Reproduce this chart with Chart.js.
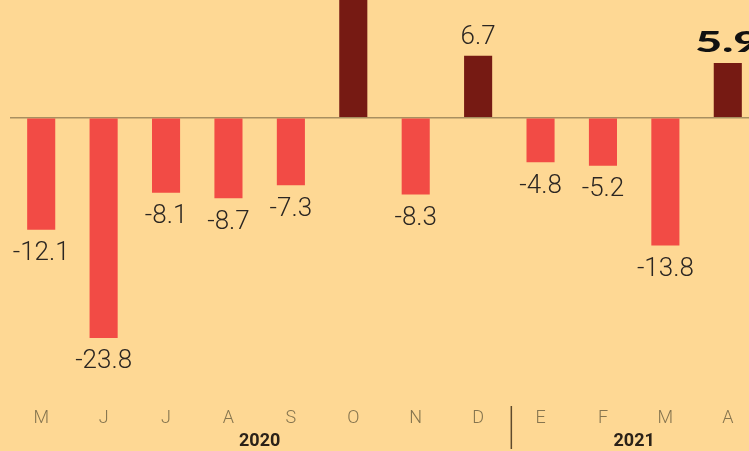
<!DOCTYPE html>
<html>
<head>
    <title>Variación mensual</title>
    <style>
        html, body {
            margin: 0;
            padding: 0;
            background: #fed894;
            overflow: hidden;
            width: 749px;
            height: 451px;
        }
        #chart {
            position: absolute;
            left: 0;
            top: 0;
        }
    </style>
    <script src="https://cdn.jsdelivr.net/npm/chart.js"></script>
</head>
<body>
    <canvas id="chart" width="760" height="451"></canvas>

    <script>
        // months shown on the axis (May 2020 - Apr 2021)
        const months = ['M', 'J', 'J', 'A', 'S', 'O', 'N', 'D', 'E', 'F', 'M', 'A'];
        const values = [-12.1, -23.8, -8.1, -8.7, -7.3, 15.0, -8.3, 6.7, -4.8, -5.2, -13.8, 5.9];
        // year groups: label, first index, last index
        const years = ['2020', '2021'];
        const yearStart = [0, 8];
        const yearEnd = [7, 11];

        const RED = '#f24b45';
        const DARK = '#761a13';

        const valueLabels = {
            id: 'valueLabels',
            afterDatasetsDraw(chart) {
                const c = chart.ctx;
                const meta = chart.getDatasetMeta(0);
                c.save();
                c.textAlign = 'center';
                c.textBaseline = 'middle';
                meta.data.forEach((bar, i) => {
                    const v = values[i];
                    const txt = v.toFixed(1);
                    if (i === values.length - 1) {
                        // latest month: heavy, wide label
                        c.save();
                        c.fillStyle = '#111';
                        c.font = '900 29px Lato';
                        c.translate(bar.x, bar.y - 20);
                        c.scale(1.6, 1);
                        c.fillText(txt, 0, 0);
                        c.restore();
                        return;
                    }
                    c.fillStyle = '#2b2622';
                    c.font = '300 26px Roboto';
                    const y = v < 0 ? bar.y + 24 : bar.y - 18;
                    c.fillText(txt, bar.x, y);
                });
                c.restore();
            }
        };

        const yearAxis = {
            id: 'yearAxis',
            afterDraw(chart) {
                const c = chart.ctx;
                const x = chart.scales.x;
                c.save();
                c.fillStyle = '#2a2118';
                c.font = 'bold 18px Roboto';
                c.textAlign = 'center';
                c.textBaseline = 'middle';
                years.forEach((yr, k) => {
                    const cx = (x.getPixelForValue(yearStart[k]) + x.getPixelForValue(yearEnd[k])) / 2;
                    c.fillText(yr, cx, 441);
                });
                // divider between the years
                for (let k = 1; k < years.length; k++) {
                    const sx = (x.getPixelForValue(yearEnd[k - 1]) + x.getPixelForValue(yearStart[k])) / 2 + 2;
                    c.strokeStyle = '#5e4a2c';
                    c.lineWidth = 1.5;
                    c.beginPath();
                    c.moveTo(sx, 406);
                    c.lineTo(sx, 449);
                    c.stroke();
                }
                c.restore();
            }
        };

        const ctx = document.getElementById('chart').getContext('2d');
        const chart = new Chart(ctx, {
            type: 'bar',
            data: {
                labels: months,
                datasets: [{
                    data: values,
                    backgroundColor: values.map(v => v < 0 ? RED : DARK),
                    categoryPercentage: 1,
                    barPercentage: 0.45
                }]
            },
            options: {
                responsive: false,
                animation: false,
                layout: {
                    padding: { left: 10, right: 1, top: 0, bottom: 17 }
                },
                plugins: {
                    legend: { display: false },
                    tooltip: { enabled: false }
                },
                scales: {
                    x: {
                        grid: { display: false, drawTicks: false },
                        border: { display: false },
                        ticks: {
                            color: '#86754f',
                            font: { family: 'Roboto', size: 18, weight: 300 },
                            padding: 5,
                            maxRotation: 0,
                            autoSkip: false
                        }
                    },
                    y: {
                        min: -30.76,
                        max: 12.72,
                        grid: {
                            drawTicks: false,
                            color: c => c.tick && c.tick.value === 0 ? '#a88f60' : 'transparent',
                            lineWidth: 1.6
                        },
                        border: { display: false },
                        ticks: { display: false, stepSize: 5 }
                    }
                }
            },
            plugins: [valueLabels, yearAxis]
        });
    </script>
</body>
</html>
